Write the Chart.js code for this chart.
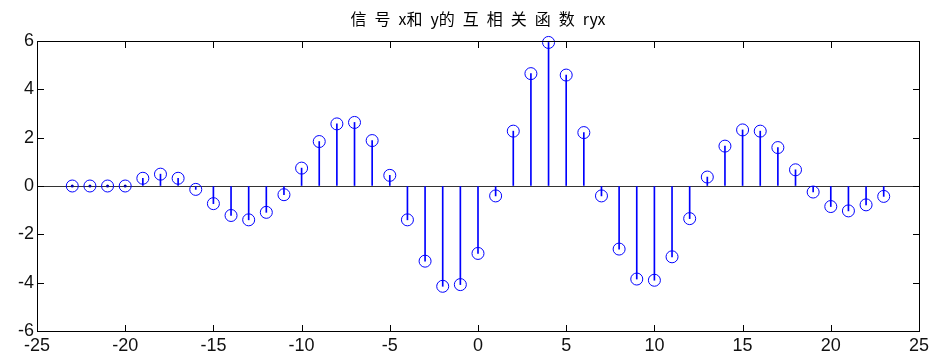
<!DOCTYPE html>
<html>
<head>
<meta charset="utf-8">
<script src="https://cdn.jsdelivr.net/npm/chart.js@4.4.1/dist/chart.umd.min.js"></script>
<style>
  html, body { margin: 0; padding: 0; background: #fff; }
</style>
</head>
<body>
<canvas id="c" width="933" height="357"></canvas>
<script>
// Lag index and cross-correlation values ryx
const lags = [-23,-22,-21,-20,-19,-18,-17,-16,-15,-14,-13,-12,-11,-10,-9,-8,-7,-6,-5,-4,-3,-2,-1,0,
              1,2,3,4,5,6,7,8,9,10,11,12,13,14,15,16,17,18,19,20,21,22,23];
const ryx = [0,0,0,0,0.32,0.49,0.32,-0.14,-0.73,-1.22,-1.40,-1.09,-0.36,0.74,1.84,
             2.57,2.63,1.88,0.44,-1.40,-3.11,-4.15,-4.08,-2.79,-0.41,2.27,4.65,5.94,4.59,2.21,-0.41,-2.61,
             -3.85,-3.90,-2.93,-1.35,0.37,1.65,2.32,2.27,1.59,0.67,-0.25,-0.85,-1.03,-0.78,-0.43];
const xTicks = [-25,-20,-15,-10,-5,0,5,10,15,20,25];
const yTicks = [-6,-4,-2,0,2,4,6];
// title words separated by en spaces
const titleText = ['信', '号', 'x和', 'y的', '互', '相', '关', '函', '数', 'ryx'].join('\u2002');

const pts = lags.map((k, i) => ({ x: k, y: ryx[i] }));
const zeroPts = pts.filter(p => p.y === 0);

const STEM = '#0000ff';
const AXIS_FONT = { family: '"Liberation Sans", Arial, sans-serif', size: 18 };

// Boxed axes with inward tick marks on all four sides, plus the title
const boxPlugin = {
  id: 'axesBox',
  afterDraw(chart) {
    const ctx = chart.ctx;
    const area = chart.chartArea;
    const xs = chart.scales.x, ys = chart.scales.y;
    const L = Math.round(area.left), R = Math.round(area.right);
    const T = Math.round(area.top), B = Math.round(area.bottom);
    ctx.save();
    ctx.fillStyle = '#000000';
    ctx.fillRect(L, T, R - L + 1, 1);
    ctx.fillRect(L, B, R - L + 1, 1);
    ctx.fillRect(L, T, 1, B - T + 1);
    ctx.fillRect(R, T, 1, B - T + 1);
    const tl = 6;
    xTicks.forEach(v => {
      const px = Math.round(xs.getPixelForValue(v));
      ctx.fillRect(px, B - tl, 1, tl);
      ctx.fillRect(px, T + 1, 1, tl);
    });
    yTicks.forEach(v => {
      const py = Math.round(ys.getPixelForValue(v));
      ctx.fillRect(L + 1, py, tl, 1);
      ctx.fillRect(R - tl, py, tl, 1);
    });

    ctx.fillStyle = '#000';
    ctx.font = '16px "Noto Sans CJK SC", sans-serif';
    ctx.textAlign = 'center';
    ctx.textBaseline = 'middle';
    ctx.fillText(titleText, (area.left + area.right) / 2, 19);
    ctx.restore();
  }
};

new Chart(document.getElementById('c'), {
  data: {
    datasets: [
      {
        type: 'bar',
        data: pts,
        backgroundColor: STEM,
        borderWidth: 0,
        barThickness: 1,
        grouped: false,
        order: 2
      },
      {
        type: 'scatter',
        data: pts,
        showLine: false,
        pointStyle: 'circle',
        pointRadius: 6,
        pointBorderWidth: 1,
        pointBorderColor: STEM,
        pointBackgroundColor: 'rgba(0,0,0,0)',
        clip: false,
        order: 1
      },
      {
        type: 'scatter',
        data: zeroPts,
        showLine: false,
        pointRadius: 1.5,
        pointBorderWidth: 0,
        pointBackgroundColor: '#0000b0',
        clip: false,
        order: 0
      }
    ]
  },
  options: {
    responsive: false,
    animation: false,
    events: [],
    layout: { padding: { top: 41, right: 14, left: 0, bottom: 0 } },
    plugins: { legend: { display: false }, tooltip: { enabled: false }, title: { display: false } },
    scales: {
      x: {
        type: 'linear',
        offset: false,
        min: -25, max: 25,
        afterBuildTicks: s => { s.ticks = xTicks.map(v => ({ value: v })); },
        afterFit: s => { s.height = 26; },
        grid: { display: false, drawTicks: false, offset: false },
        border: { display: false },
        ticks: { font: AXIS_FONT, color: '#111', padding: 4, maxRotation: 0, autoSkip: false }
      },
      y: {
        type: 'linear',
        min: -6, max: 6,
        afterBuildTicks: s => { s.ticks = yTicks.map(v => ({ value: v })); },
        afterFit: s => { s.width = 37; },
        grid: {
          drawTicks: false,
          color: c => (c.tick && c.tick.value === 0 ? '#333' : 'rgba(0,0,0,0)'),
          lineWidth: 1
        },
        border: { display: false },
        ticks: { font: AXIS_FONT, color: '#111', padding: 3, autoSkip: false }
      }
    }
  },
  plugins: [boxPlugin]
});
</script>
</body>
</html>
